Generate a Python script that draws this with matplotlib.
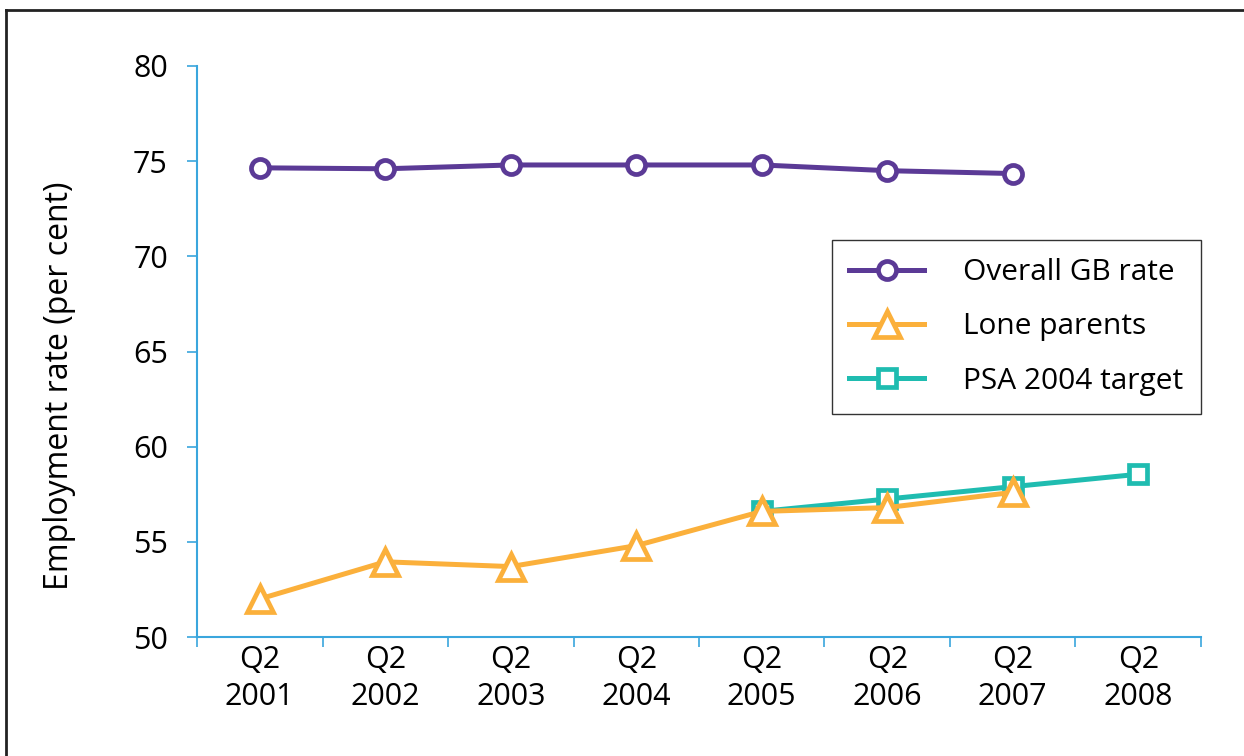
import matplotlib
matplotlib.use("Agg")
import matplotlib.pyplot as plt
from matplotlib.lines import Line2D
import numpy as np

plt.rcParams["font.family"] = ["Open Sans", "DejaVu Sans"]

# Data
periods = ["Q2\n2001", "Q2\n2002", "Q2\n2003", "Q2\n2004",
           "Q2\n2005", "Q2\n2006", "Q2\n2007", "Q2\n2008"]
overall_gb = [74.65, 74.6, 74.8, 74.8, 74.8, 74.5, 74.35]
lone_parents = [52.0, 53.95, 53.7, 54.8, 56.6, 56.8, 57.6]
psa_target = [56.6, 57.25, 57.9, 58.55]
psa_start = 4

purple = "#5b3a96"
orange = "#fbb03b"
teal = "#1fbcb0"
axis_blue = "#3aa6dd"

fig = plt.figure(figsize=(12.44, 7.56), dpi=100)
ax = fig.add_axes([0.1584, 0.1574, 0.807, 0.7553])

x_all = np.arange(len(periods))
lw = 3.6
mew = 3.4
circle = dict(color=purple, lw=lw, marker="o", ms=13, mec=purple, mfc="white", mew=mew)
tri = dict(color=orange, lw=lw, marker="^", ms=19, mec=orange, mfc="white", mew=mew)
sq = dict(color=teal, lw=lw, marker="s", ms=13, mec=teal, mfc="white", mew=mew)

ax.plot(x_all[:len(overall_gb)], overall_gb, zorder=4, **circle)
ax.plot(x_all[psa_start:psa_start + len(psa_target)], psa_target, zorder=3, **sq)
ax.plot(x_all[:len(lone_parents)], lone_parents, zorder=3.5, **tri)

ax.set_xlim(-0.5, len(periods) - 0.5)
ax.set_ylim(50, 80)
ax.set_yticks(np.arange(50, 81, 5))
ax.set_xticks(x_all)
ax.set_xticklabels(periods, fontsize=22, linespacing=1.3)
ax.set_xticks(np.arange(-0.5, len(periods), 1.0), minor=True)
ax.tick_params(axis="x", which="major", length=0, pad=6)
ax.tick_params(axis="x", which="minor", length=7, width=1.2, color=axis_blue, direction="out")
ax.tick_params(axis="y", length=7, width=1.2, color=axis_blue, labelsize=22, pad=14)

for side in ("top", "right"):
    ax.spines[side].set_visible(False)
for side in ("left", "bottom"):
    ax.spines[side].set_color(axis_blue)
    ax.spines[side].set_linewidth(1.5)

ax.set_ylabel("Employment rate (per cent)", fontsize=23)
ax.yaxis.set_label_coords(-0.121, 0.44)

handles = [Line2D([], [], **circle), Line2D([], [], **tri), Line2D([], [], **sq)]
labels = ["Overall GB rate", "Lone parents", "PSA 2004 target"]
leg = ax.legend(handles, labels, loc="upper right", bbox_to_anchor=(1.0, 0.695),
                fontsize=21.5, frameon=True, fancybox=False, edgecolor="black",
                handlelength=2.5, handletextpad=1.3, labelspacing=0.85,
                borderpad=0.6, borderaxespad=0.0)
leg.get_frame().set_linewidth(1.0)

# Outer frame along the top and left edges
fig.add_artist(Line2D([6 / 1244, 1.0], [1 - 10 / 756, 1 - 10 / 756],
                      transform=fig.transFigure, color="#222222", lw=2.0))
fig.add_artist(Line2D([6 / 1244, 6 / 1244], [0.0, 1 - 10 / 756],
                      transform=fig.transFigure, color="#222222", lw=2.0))

fig.savefig("out.png", dpi=100)
